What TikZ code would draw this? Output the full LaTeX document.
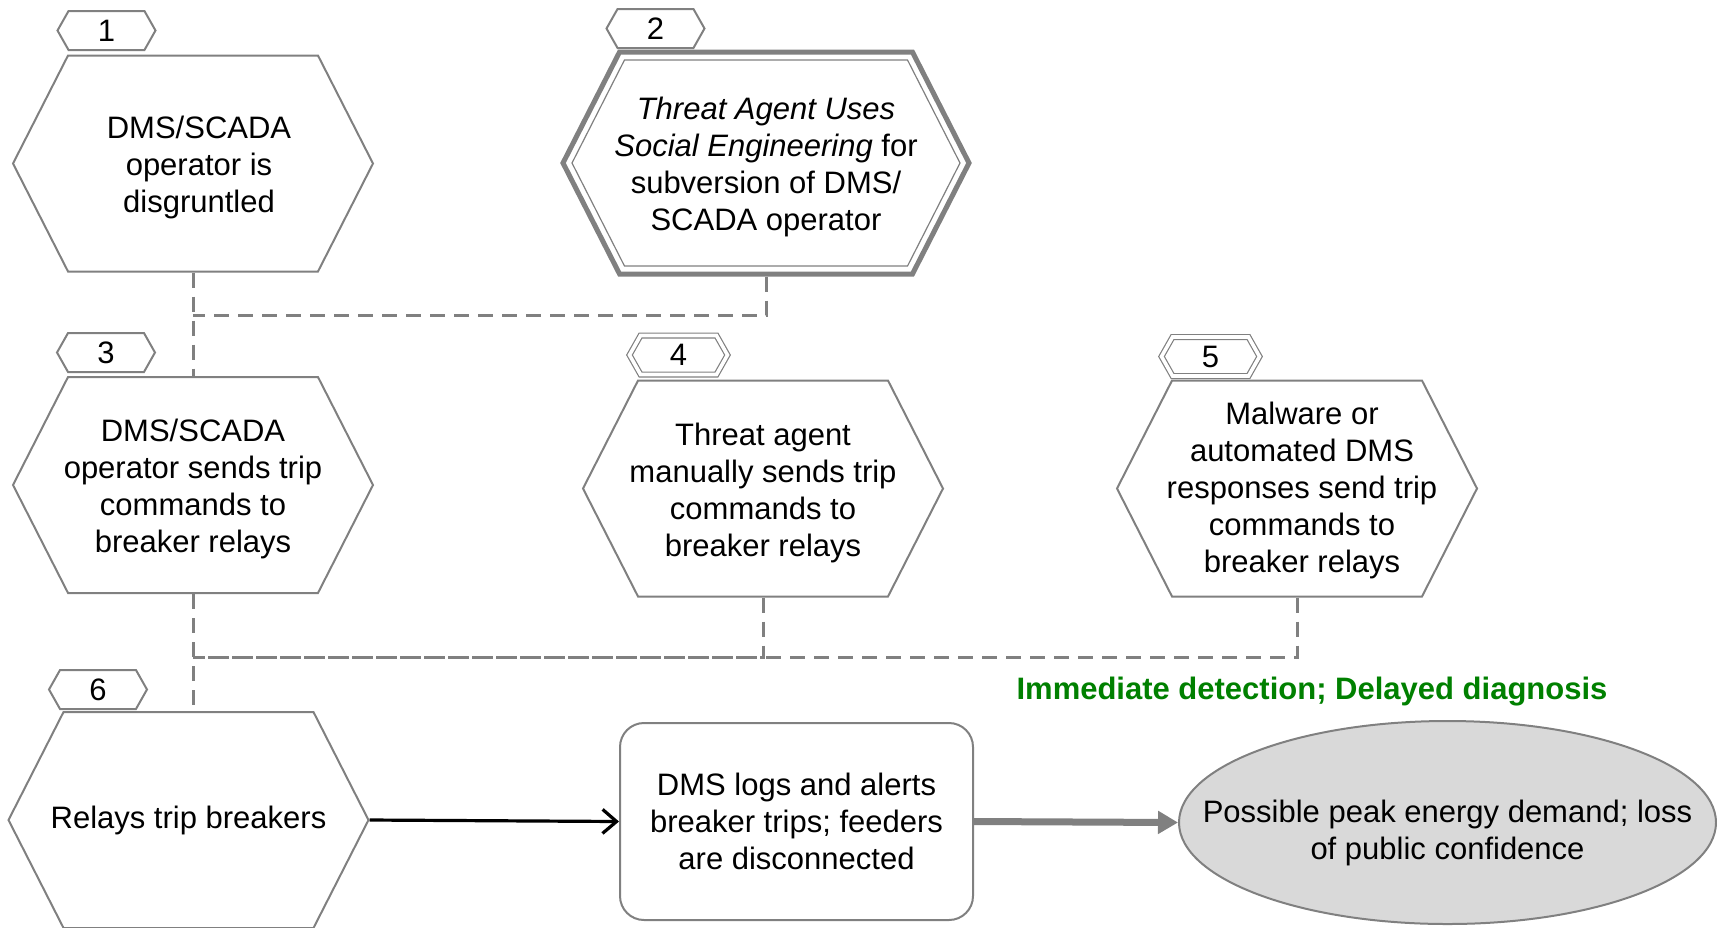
\documentclass[tikz,border=0pt]{standalone}
\usepackage{fontspec}
\setmainfont{Liberation Sans}
\usetikzlibrary{positioning}
\usetikzlibrary{shapes.symbols}
\usetikzlibrary{shapes.geometric}
\usetikzlibrary{arrows.meta}
\definecolor{linegray}{RGB}{128,128,128}
\definecolor{fillgray}{RGB}{217,217,217}
\definecolor{notegreen}{RGB}{0,128,0}
\tikzset{
	every node/.style={align=center,font=\fontsize{15.5}{18.5}\selectfont},
	hexbox/.style={signal,signal to=west and east,signal pointer angle=126,draw=linegray,line width=1pt,
		minimum width=180pt,minimum height=108pt,inner sep=0pt},
	tagbox/.style={signal,signal to=west and east,signal pointer angle=121,draw=linegray,line width=1pt,
		minimum width=49pt,minimum height=19.5pt,inner sep=0pt},
	dtag/.style={tagbox,line width=0.6pt,double=white,double distance=1.8pt},
	logbox/.style={rectangle,rounded corners=12pt,draw=linegray,line width=1pt,
		minimum width=176.5pt,minimum height=98.5pt,inner sep=0pt},
	impact/.style={ellipse,draw=linegray,fill=fillgray,line width=1pt,
		minimum width=268.5pt,minimum height=101.5pt,inner sep=0pt},
	link/.style={draw=linegray,line width=1.5pt,dash pattern=on 7.5pt off 4.5pt},
	flow/.style={draw=black,line width=1.6pt,-{Straight Barb[length=7pt,width=12pt]}},
	bigflow/.style={draw=linegray,line width=3.5pt,-{Triangle[length=10pt,width=11pt]}},
}

\begin{document}
\begin{tikzpicture}[x=0.5pt,y=-0.5pt]
	\useasboundingbox (0,0) rectangle (1717,927);

	% top row.....................
	\node [hexbox] (h1) at (193,163.5) {};
	\node (h1text) at ([xshift=3pt,yshift=-2pt]h1.center) {DMS/SCADA\\operator is\\disgruntled};
	\node [hexbox,line width=2.5pt,minimum width=203pt,minimum height=111pt] (h2) at (766,163) {};
	\node [hexbox,line width=0.6pt,minimum width=194pt,minimum height=103pt] (h2in) at (h2.center) {};
	\node (h2text) at ([yshift=-2pt]h2.center)
		{\textit{Threat Agent Uses}\\\textit{Social Engineering} for\\subversion of DMS/\\SCADA operator};

	% middle row..................
	\node [hexbox] (h3) at (193,485) {};
	\node (h3text) at ([yshift=-2pt]h3.center) {DMS/SCADA\\operator sends trip\\commands to\\breaker relays};
	\node [hexbox] (h4) at (763,488.5) {};
	\node (h4text) at ([yshift=-2pt]h4.center) {Threat agent\\manually sends trip\\commands to\\breaker relays};
	\node [hexbox] (h5) at (1297,488.5) {};
	\node (h5text) at ([xshift=2.5pt,yshift=-1pt]h5.center) {Malware or\\automated DMS\\responses send trip\\commands to\\breaker relays};

	% bottom row..................
	\node [hexbox] (h6) at (188.5,820) {};
	\node (h6text) at (h6.center) {Relays trip breakers};
	\node [logbox] (logs) at (796.5,821.5) {DMS logs and alerts\\breaker trips; feeders\\are disconnected};
	\node [impact] (impact) at (1447.5,822.5) {};
	\node (impacttext) at ([yshift=-5pt]impact.center) {Possible peak energy demand; loss\\of public confidence};

	% number tags.................
	\node [tagbox] (t1) at (106.5,30.5) {1};
	\node [tagbox] (t2) at (655.5,28.5) {2};
	\node [tagbox] (t3) at (106,352.5) {3};
	\node [dtag] (t4) at (678.5,355) {4};
	\node [dtag] (t5) at (1210.5,356.5) {5};
	\node [tagbox] (t6) at (98,689.5) {6};

	% dashed links................
	\coordinate (j1) at (193,315);
	\coordinate (j2) at (193,657);
	\draw [link] (h1.south) -- (h3.north);
	\draw [link] (h2.south) |- (j1);
	\draw [link] (h3.south) -- (h3.south |- h6.north);
	\draw [link] (h4.south) |- (j2);
	\draw [link] (h5.south) |- (j2);

	% arrows......................
	\draw [flow] (h6.east) -- (logs.west);
	\draw [bigflow] (logs.east) -- (impact.west);

	% label.......................
	\node [text=notegreen,font=\fontsize{15.5}{18.5}\selectfont\bfseries] (note) at (1312,692)
		{Immediate detection; Delayed diagnosis};
\end{tikzpicture}
\end{document}
